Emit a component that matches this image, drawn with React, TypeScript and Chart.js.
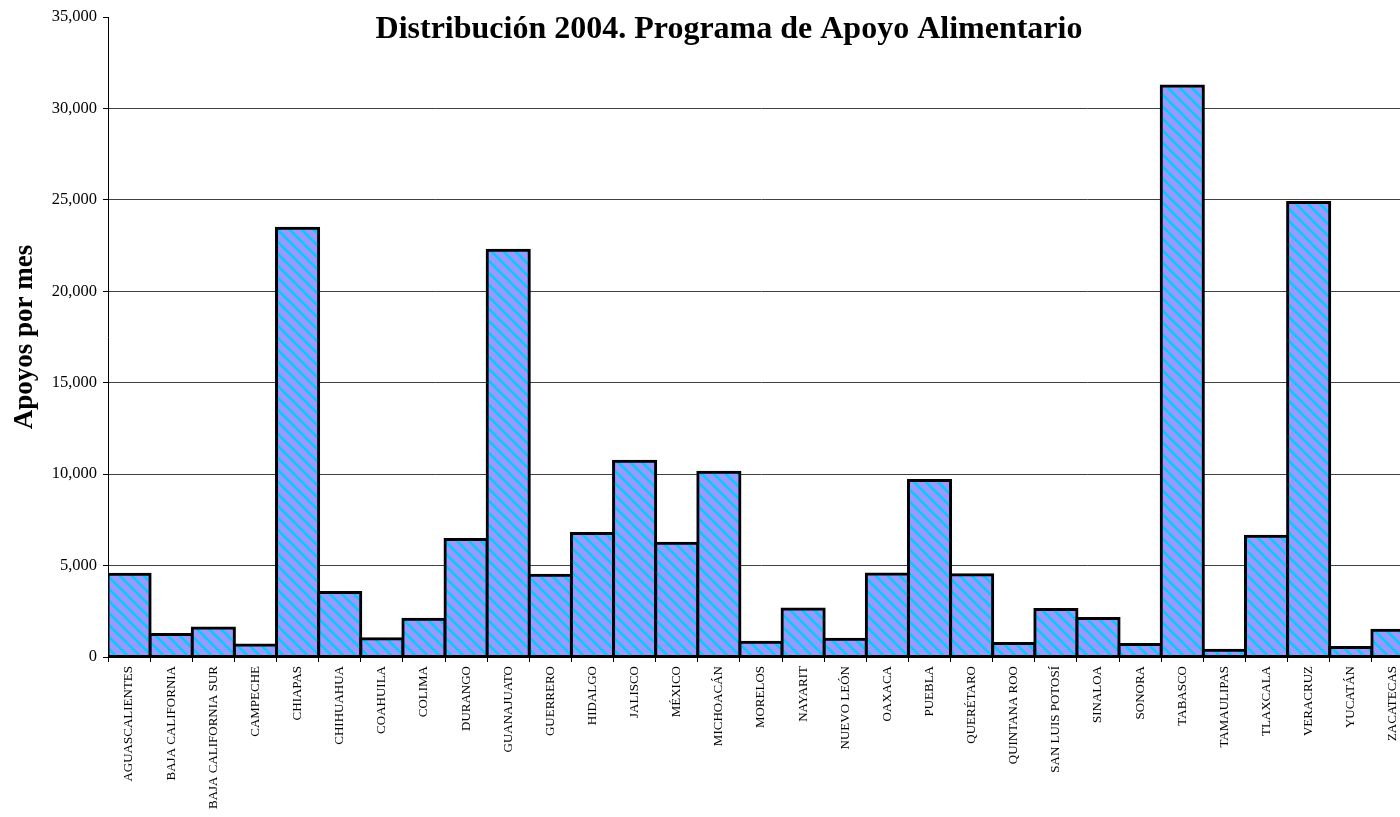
import React, { useEffect, useRef } from "react";
import { Chart, registerables } from "chart.js";

Chart.register(...registerables);

const TITLE = "Distribución 2004. Programa de Apoyo Alimentario";
const Y_TITLE = "Apoyos por mes";

const states = [
  "AGUASCALIENTES", "BAJA CALIFORNIA", "BAJA CALIFORNIA SUR", "CAMPECHE", "CHIAPAS",
  "CHIHUAHUA", "COAHUILA", "COLIMA", "DURANGO", "GUANAJUATO", "GUERRERO", "HIDALGO",
  "JALISCO", "MÉXICO", "MICHOACÁN", "MORELOS", "NAYARIT", "NUEVO LEÓN", "OAXACA",
  "PUEBLA", "QUERÉTARO", "QUINTANA ROO", "SAN LUIS POTOSÍ", "SINALOA", "SONORA",
  "TABASCO", "TAMAULIPAS", "TLAXCALA", "VERACRUZ", "YUCATÁN", "ZACATECAS",
];

const apoyos = [
  4530, 1230, 1580, 650, 23450,
  3530, 1000, 2070, 6420, 22250, 4470, 6760,
  10710, 6220, 10110, 810, 2630, 970, 4540,
  9650, 4500, 740, 2600, 2100, 690,
  31220, 370, 6600, 24860, 520, 1460,
];

const yTicks = [0, 5000, 10000, 15000, 20000, 25000, 30000, 35000];

const SERIF = "'Times New Roman', 'Liberation Serif', serif";

function makePattern(): CanvasPattern | string {
  const s = 12;
  const c = document.createElement("canvas");
  c.width = s;
  c.height = s;
  const g = c.getContext("2d");
  if (!g) return "#9999FF";
  g.fillStyle = "#9999FF";
  g.fillRect(0, 0, s, s);
  g.strokeStyle = "#00CCFF";
  g.lineWidth = 2.6;
  for (const off of [-s, 0, s]) {
    g.beginPath();
    g.moveTo(-2, off - 2);
    g.lineTo(s + 2, s + off + 2);
    g.stroke();
  }
  const p = g.createPattern(c, "repeat");
  return p || "#9999FF";
}

const titlePlugin = {
  id: "excelTitle",
  afterDraw(chart: any) {
    const ctx = chart.ctx;
    ctx.save();
    ctx.font = `bold 32px ${SERIF}`;
    ctx.fillStyle = "#000";
    ctx.textAlign = "center";
    ctx.textBaseline = "alphabetic";
    ctx.fillText(TITLE, chart.width / 2, 38);
    ctx.restore();
  },
};

export default function App() {
  const ref = useRef<HTMLCanvasElement | null>(null);

  useEffect(() => {
    if (!ref.current) return;
    const pattern = makePattern();
    const chart = new Chart(ref.current, {
      type: "bar",
      data: {
        labels: states,
        datasets: [
          {
            label: "Apoyos por mes",
            data: apoyos,
            backgroundColor: pattern as any,
            borderColor: "#000",
            borderWidth: 3,
            borderSkipped: false,
            inflateAmount: 1.5,
            barPercentage: 1,
            categoryPercentage: 1,
          },
        ],
      },
      options: {
        responsive: false,
        animation: false,
        devicePixelRatio: 1,
        layout: { padding: { top: 17, right: 44, left: 0, bottom: 0 } },
        plugins: {
          legend: { display: false },
          title: { display: false },
          tooltip: { enabled: false },
        },
        scales: {
          x: {
            type: "category",
            offset: true,
            grid: {
              display: true,
              drawOnChartArea: false,
              drawTicks: true,
              tickLength: 5,
              color: "#000",
              offset: true,
            },
            border: { display: true, color: "#000", width: 1 },
            ticks: {
              autoSkip: false,
              maxRotation: 90,
              minRotation: 90,
              padding: 4,
              color: "#000",
              font: { family: SERIF, size: 13 },
            },
            afterFit(scale: any) {
              scale.height = 160;
            },
          },
          y: {
            min: 0,
            max: 35000,
            afterBuildTicks(scale: any) {
              scale.ticks = yTicks.map((v) => ({ value: v }));
            },
            grid: {
              color: (ctx: any) =>
                ctx.tick && ctx.tick.value === 35000 ? "rgba(0,0,0,0)" : "#404040",
              tickColor: "#000",
              tickLength: 5,
              lineWidth: 1,
            },
            border: { display: true, color: "#000", width: 1 },
            ticks: {
              padding: 6,
              color: "#000",
              font: { family: SERIF, size: 16.5 },
              callback: (v: any) => Number(v).toLocaleString("en-US"),
            },
            title: {
              display: true,
              text: Y_TITLE,
              color: "#000",
              font: { family: SERIF, size: 27, weight: "bold" },
              padding: { top: 9, bottom: 0 },
            },
            afterFit(scale: any) {
              scale.width = 108;
            },
          },
        },
      },
      plugins: [titlePlugin],
    });
    return () => chart.destroy();
  }, []);

  return (
    <div
      style={{
        position: "fixed",
        left: 0,
        top: 0,
        width: 1400,
        height: 817,
        overflow: "hidden",
        background: "#fff",
      }}
    >
      <canvas ref={ref} width={1458} height={817} style={{ width: 1458, height: 817, display: "block" }} />
    </div>
  );
}
